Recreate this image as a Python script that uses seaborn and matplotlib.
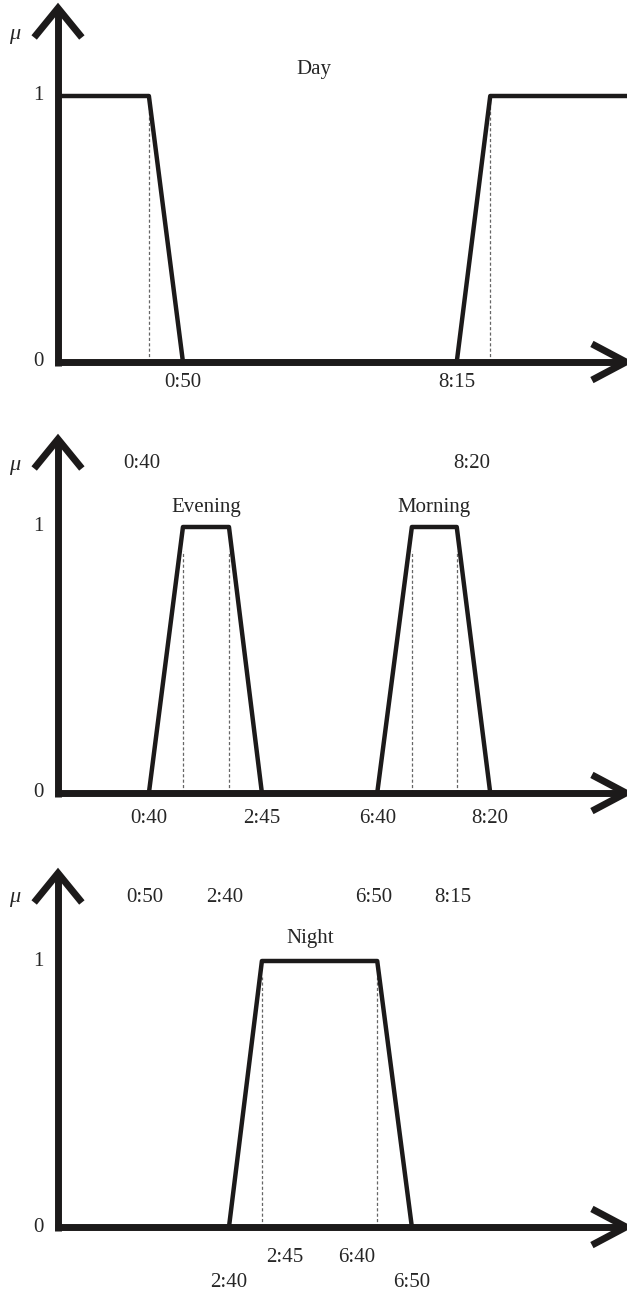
import matplotlib
matplotlib.use("Agg")
import matplotlib.pyplot as plt
import seaborn as sns
import pandas as pd

sns.set_theme(style="white")
plt.rcParams['font.family'] = ['Liberation Serif', 'DejaVu Serif']

# schematic positions of the breakpoints on the time axis (0 = origin, 10 = arrow tip)
time_labels = ["0:40", "0:50", "2:40", "2:45", "6:40", "6:50", "8:15", "8:20"]
time_pos = [1.60, 2.20, 3.01, 3.59, 5.62, 6.23, 7.02, 7.61]
P = dict(zip(time_labels, time_pos))

AXIS_END = 10.0

# membership functions
day_x = [0.0, P["0:40"], P["0:50"], P["8:15"], P["8:20"], AXIS_END + 0.05]
day_mu = [1, 1, 0, 0, 1, 1]
evening_x = [P["0:40"], P["0:50"], P["2:40"], P["2:45"]]
evening_mu = [0, 1, 1, 0]
morning_x = [P["6:40"], P["6:50"], P["8:15"], P["8:20"]]
morning_mu = [0, 1, 1, 0]
night_x = [P["2:40"], P["2:45"], P["6:40"], P["6:50"]]
night_mu = [0, 1, 1, 0]

W, H = 627, 1293
fig = plt.figure(figsize=(W / 100, H / 100), dpi=100)

# panel pixel bands: (top, bottom, y of zero line)
bands = [(0, 420, 362), (420, 860, 793), (860, 1293, 1227)]
UNIT = 266.0  # pixels per membership unit
X0 = 58.0
XS = 56.8
INK = "#1c1a1a"


def make_ax(top, bottom, y0):
    ax = fig.add_axes([0, 1 - bottom / H, 1, (bottom - top) / H])
    ax.set_xlim(-X0 / XS, (W - X0) / XS)
    ax.set_ylim((y0 - bottom) / UNIT, (y0 - top) / UNIT)
    ax.axis("off")
    return ax


def draw_axes(ax, fs):
    k = dict(color=INK, lw=5.0, solid_capstyle="butt", zorder=5)
    ax.plot([0, 0], [-0.014, 1.33], **k)
    ax.plot([-0.05, AXIS_END - 0.05], [0, 0], **k)
    ax.plot([-0.42, 0, 0.42], [1.22, 1.33, 1.22], color=INK, lw=5.0,
            solid_joinstyle="miter", solid_capstyle="butt", zorder=5)
    ax.plot([AXIS_END - 0.6, AXIS_END, AXIS_END - 0.6], [0.068, 0, -0.068],
            color=INK, lw=5.0, solid_joinstyle="miter", solid_capstyle="butt", zorder=5)
    ax.text(-0.34, 1, "1", ha="center", va="center", fontsize=fs)
    ax.text(-0.34, 0, "0", ha="center", va="center", fontsize=fs)


def mf(ax, xs, ys, lw=3.2):
    df = pd.DataFrame({"x": xs, "mu": ys})
    sns.lineplot(data=df, x="x", y="mu", sort=False, estimator=None, ax=ax,
                 color=INK, lw=lw, zorder=4)


def dashed(ax, x, top):
    ax.plot([x, x], [0, top], color="#666666", lw=0.9, ls=(0, (2.5, 1.8)), zorder=3)


FS = 15

# ---- Panel 1: Day
ax1 = make_ax(*bands[0])
draw_axes(ax1, FS)
mf(ax1, day_x, day_mu)
dashed(ax1, P["0:40"], 1)
dashed(ax1, P["8:20"], 1)
ax1.text(-0.76, 1.23, "μ", style="italic", fontsize=FS + 1, ha="center", va="center")
ax1.text(4.51, 1.10, "Day", fontsize=FS, ha="center", va="center")
for lab in ["0:50", "8:15"]:
    ax1.text(P[lab], -0.078, lab, fontsize=FS, ha="center", va="center")

# ---- Panel 2: Evening / Morning
ax2 = make_ax(*bands[1])
draw_axes(ax2, FS)
mf(ax2, evening_x, evening_mu)
mf(ax2, morning_x, morning_mu)
for lab in ["0:50", "2:40", "6:50", "8:15"]:
    dashed(ax2, P[lab], 0.91)
ax2.text(-0.76, 1.23, "μ", style="italic", fontsize=FS + 1, ha="center", va="center")
ax2.text(1.48, 1.24, "0:40", fontsize=FS, ha="center", va="center")
ax2.text(7.29, 1.24, "8:20", fontsize=FS, ha="center", va="center")
ax2.text((P["0:50"] + P["2:40"]) / 2, 1.075, "Evening", fontsize=FS, ha="center", va="center")
ax2.text((P["6:50"] + P["8:15"]) / 2, 1.075, "Morning", fontsize=FS, ha="center", va="center")
for lab in ["0:40", "2:45", "6:40", "8:20"]:
    ax2.text(P[lab], -0.094, lab, fontsize=FS, ha="center", va="center")

# ---- Panel 3: Night
ax3 = make_ax(*bands[2])
draw_axes(ax3, FS)
mf(ax3, night_x, night_mu)
dashed(ax3, P["2:45"], 0.94)
dashed(ax3, P["6:40"], 0.94)
ax3.text(-0.76, 1.24, "μ", style="italic", fontsize=FS + 1, ha="center", va="center")
for lab, xp in zip(["0:50", "2:40", "6:50", "8:15"], [1.53, 2.94, 5.55, 6.95]):
    ax3.text(xp, 1.24, lab, fontsize=FS, ha="center", va="center")
ax3.text(4.44, 1.085, "Night", fontsize=FS, ha="center", va="center")
ax3.text(3.99, -0.113, "2:45", fontsize=FS, ha="center", va="center")
ax3.text(5.25, -0.113, "6:40", fontsize=FS, ha="center", va="center")
ax3.text(P["2:40"], -0.21, "2:40", fontsize=FS, ha="center", va="center")
ax3.text(P["6:50"], -0.21, "6:50", fontsize=FS, ha="center", va="center")

fig.savefig("out.png", dpi=100)
